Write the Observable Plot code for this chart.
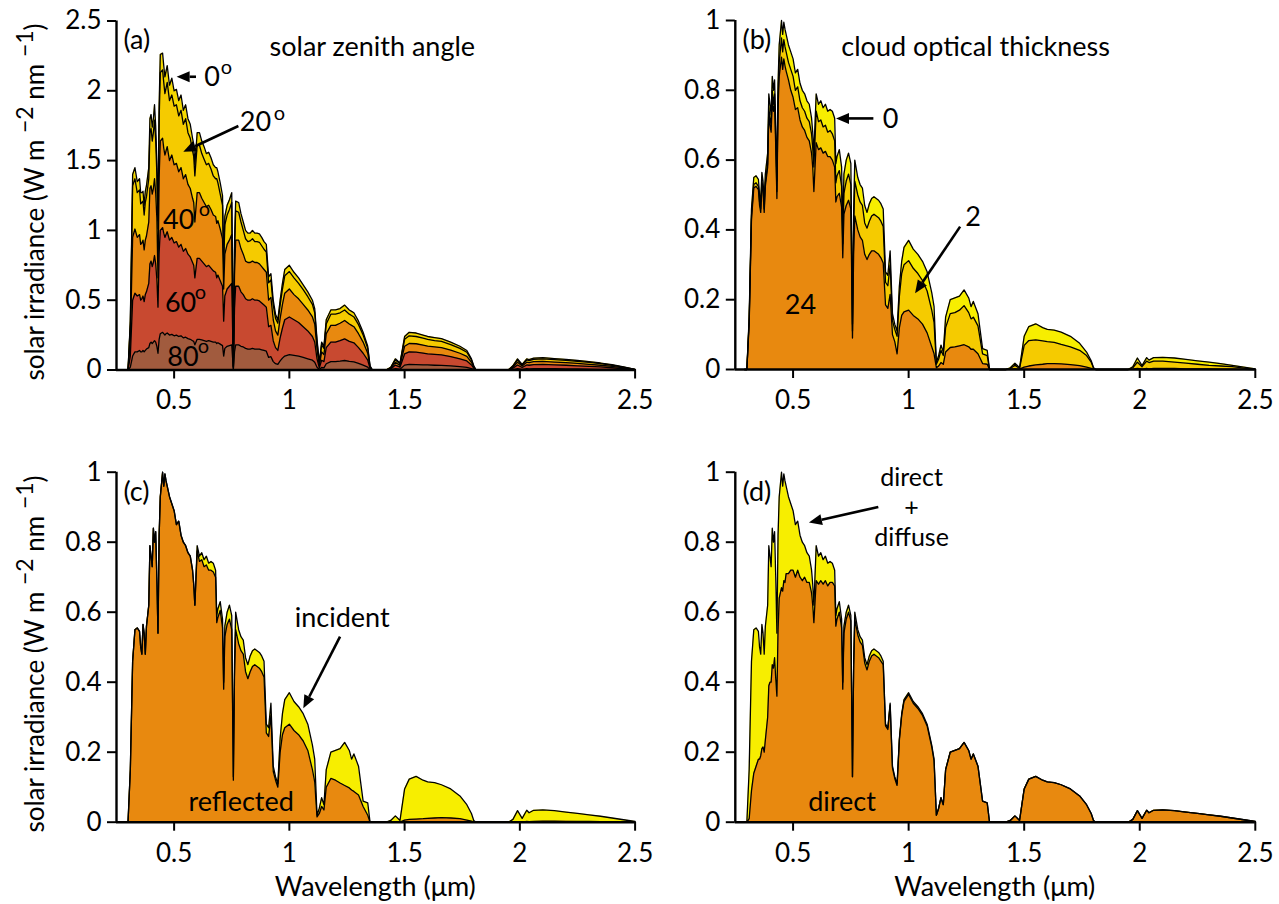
<!DOCTYPE html>
<html>
<head>
<meta charset="utf-8">
<script src="https://cdn.jsdelivr.net/npm/d3@7"></script>
<script src="https://cdn.jsdelivr.net/npm/@observablehq/plot@0.6"></script>
<style>
  html, body { margin: 0; padding: 0; background: #fff; }
  #chart { position: relative; width: 1279px; height: 904px; overflow: hidden; }
  .panel { position: absolute; }
  .panel svg { max-width: none; }
</style>
</head>
<body>
<div id="chart"></div>
<script>
// Wavelength grid (µm), shared by every spectrum below
const wavelength = [
  0.29, 0.30, 0.31, 0.32, 0.33, 0.34, 0.35, 0.355, 0.36, 0.365,
  0.37, 0.375, 0.38, 0.39, 0.395, 0.40, 0.405, 0.41, 0.415, 0.42,
  0.425, 0.43, 0.435, 0.44, 0.45, 0.455, 0.46, 0.465, 0.47, 0.48,
  0.49, 0.50, 0.51, 0.52, 0.53, 0.54, 0.55, 0.56, 0.57, 0.58,
  0.585, 0.59, 0.60, 0.61, 0.62, 0.63, 0.64, 0.65, 0.66, 0.67,
  0.68, 0.685, 0.69, 0.70, 0.71, 0.715, 0.72, 0.73, 0.74, 0.75,
  0.757, 0.762, 0.767, 0.78, 0.79, 0.80, 0.81, 0.82, 0.83, 0.84,
  0.85, 0.86, 0.87, 0.88, 0.89, 0.90, 0.91, 0.92, 0.93, 0.94,
  0.95, 0.96, 0.97, 0.98, 1.00, 1.02, 1.04, 1.06, 1.08, 1.10,
  1.11, 1.12, 1.13, 1.14, 1.15, 1.16, 1.18, 1.20, 1.22, 1.24,
  1.26, 1.27, 1.28, 1.30, 1.32, 1.34, 1.35, 1.36, 1.42, 1.44,
  1.46, 1.48, 1.50, 1.52, 1.55, 1.58, 1.60, 1.63, 1.66, 1.70,
  1.74, 1.77, 1.79, 1.80, 1.81, 1.95, 1.97, 1.99, 2.01, 2.03,
  2.04, 2.06, 2.10, 2.15, 2.20, 2.25, 2.30, 2.35, 2.40, 2.45,
  2.50
];

// (a) surface irradiance for solar zenith angles 0°, 20°, 40°, 60°, 80°
const sza0 = [
  0, 0, 0.35, 1.40, 1.45, 1.35, 1.37, 1.27, 1.27, 1.28,
  1.18, 1.28, 1.32, 1.45, 1.80, 1.83, 1.74, 1.80, 1.90, 1.75,
  1.50, 1.07, 1.90, 2.26, 2.27, 2.18, 2.10, 2.14, 2.18, 2.04,
  2.09, 2.00, 2.01, 1.93, 1.97, 1.86, 1.90, 1.80, 1.76, 1.66,
  1.62, 1.47, 1.70, 1.70, 1.64, 1.60, 1.55, 1.56, 1.52, 1.47,
  1.45, 1.45, 1.42, 1.34, 1.25, 0.80, 1.10, 1.18, 1.22, 1.27,
  0.03, 0.90, 1.21, 1.20, 1.12, 1.06, 1.00, 0.98, 0.98, 1.00,
  0.98, 0.98, 0.975, 0.95, 0.92, 0.90, 0.667, 0.69, 0.50, 0.40,
  0.36, 0.50, 0.62, 0.72, 0.75, 0.70, 0.66, 0.61, 0.56, 0.50,
  0.44, 0.22, 0.05, 0.20, 0.17, 0.36, 0.43, 0.43, 0.44, 0.465,
  0.43, 0.42, 0.41, 0.35, 0.27, 0.17, 0.03, 0, 0, 0.02,
  0.08, 0.05, 0.24, 0.27, 0.265, 0.25, 0.24, 0.232, 0.225, 0.20,
  0.17, 0.14, 0.08, 0.03, 0, 0, 0.03, 0.08, 0.04, 0.08,
  0.075, 0.085, 0.088, 0.082, 0.076, 0.068, 0.06, 0.05, 0.038, 0.022,
  0.005
];
const sza20 = [
  0, 0, 0.33, 1.32, 1.37, 1.27, 1.29, 1.19, 1.20, 1.21,
  1.11, 1.20, 1.24, 1.37, 1.70, 1.73, 1.64, 1.70, 1.79, 1.65,
  1.41, 1.01, 1.79, 2.13, 2.15, 2.06, 1.98, 2.02, 2.06, 1.93,
  1.97, 1.89, 1.90, 1.82, 1.86, 1.76, 1.80, 1.70, 1.66, 1.57,
  1.53, 1.39, 1.61, 1.61, 1.55, 1.51, 1.47, 1.48, 1.44, 1.39,
  1.37, 1.37, 1.34, 1.26, 1.18, 0.75, 1.04, 1.11, 1.15, 1.20,
  0.025, 0.85, 1.14, 1.13, 1.06, 1.00, 0.94, 0.92, 0.925, 0.94,
  0.92, 0.92, 0.915, 0.89, 0.865, 0.845, 0.625, 0.645, 0.465, 0.37,
  0.335, 0.465, 0.58, 0.675, 0.705, 0.66, 0.62, 0.575, 0.525, 0.47,
  0.41, 0.20, 0.045, 0.18, 0.155, 0.33, 0.40, 0.40, 0.41, 0.43,
  0.40, 0.39, 0.38, 0.325, 0.25, 0.155, 0.027, 0, 0, 0.018,
  0.072, 0.045, 0.22, 0.245, 0.24, 0.228, 0.219, 0.211, 0.205, 0.182,
  0.155, 0.127, 0.072, 0.027, 0, 0, 0.027, 0.072, 0.036, 0.072,
  0.068, 0.077, 0.08, 0.074, 0.069, 0.062, 0.054, 0.045, 0.034, 0.02,
  0.004
];
const sza40 = [
  0, 0, 0.22, 0.95, 1.01, 0.95, 0.97, 0.90, 0.91, 0.93,
  0.86, 0.93, 0.96, 1.06, 1.30, 1.32, 1.26, 1.30, 1.37, 1.27,
  1.09, 0.66, 1.38, 1.64, 1.66, 1.59, 1.54, 1.57, 1.60, 1.50,
  1.54, 1.47, 1.48, 1.42, 1.45, 1.37, 1.40, 1.33, 1.30, 1.23,
  1.20, 1.06, 1.27, 1.27, 1.23, 1.20, 1.17, 1.18, 1.15, 1.11,
  1.10, 1.05, 1.07, 1.01, 0.94, 0.58, 0.83, 0.90, 0.93, 0.97,
  0.02, 0.68, 0.93, 0.93, 0.87, 0.83, 0.78, 0.77, 0.77, 0.78,
  0.77, 0.77, 0.76, 0.74, 0.72, 0.70, 0.50, 0.52, 0.36, 0.28,
  0.25, 0.37, 0.47, 0.55, 0.58, 0.54, 0.51, 0.47, 0.43, 0.38,
  0.33, 0.15, 0.03, 0.13, 0.11, 0.26, 0.32, 0.32, 0.335, 0.355,
  0.33, 0.32, 0.31, 0.26, 0.20, 0.12, 0.02, 0, 0, 0.012,
  0.055, 0.033, 0.17, 0.19, 0.188, 0.178, 0.171, 0.165, 0.16, 0.142,
  0.12, 0.098, 0.055, 0.02, 0, 0, 0.02, 0.056, 0.028, 0.056,
  0.052, 0.06, 0.062, 0.057, 0.053, 0.047, 0.041, 0.034, 0.026, 0.015,
  0.003
];
const sza60 = [
  0, 0, 0.10, 0.50, 0.55, 0.53, 0.54, 0.50, 0.51, 0.53,
  0.49, 0.54, 0.56, 0.62, 0.76, 0.78, 0.74, 0.77, 0.82, 0.76,
  0.65, 0.45, 0.84, 1.00, 1.02, 0.98, 0.95, 0.97, 0.99, 0.93,
  0.95, 0.91, 0.92, 0.88, 0.90, 0.85, 0.87, 0.83, 0.81, 0.77,
  0.75, 0.66, 0.80, 0.80, 0.78, 0.76, 0.74, 0.75, 0.73, 0.71,
  0.70, 0.66, 0.68, 0.64, 0.60, 0.35, 0.53, 0.58, 0.60, 0.62,
  0.01, 0.44, 0.60, 0.60, 0.56, 0.54, 0.51, 0.50, 0.50, 0.51,
  0.50, 0.50, 0.495, 0.48, 0.465, 0.45, 0.31, 0.32, 0.21, 0.16,
  0.14, 0.23, 0.30, 0.36, 0.38, 0.36, 0.34, 0.31, 0.28, 0.24,
  0.20, 0.08, 0.015, 0.07, 0.06, 0.16, 0.20, 0.20, 0.21, 0.223,
  0.205, 0.20, 0.195, 0.16, 0.12, 0.07, 0.012, 0, 0, 0.007,
  0.035, 0.02, 0.115, 0.13, 0.128, 0.121, 0.116, 0.112, 0.108, 0.096,
  0.08, 0.065, 0.036, 0.013, 0, 0, 0.013, 0.036, 0.018, 0.036,
  0.034, 0.038, 0.04, 0.037, 0.034, 0.03, 0.026, 0.022, 0.016, 0.009,
  0.002
];
const sza80 = [
  0, 0, 0.02, 0.10, 0.13, 0.13, 0.14, 0.13, 0.13, 0.14,
  0.13, 0.14, 0.15, 0.16, 0.19, 0.20, 0.19, 0.20, 0.21, 0.20,
  0.17, 0.12, 0.22, 0.26, 0.27, 0.26, 0.25, 0.26, 0.265, 0.25,
  0.255, 0.245, 0.25, 0.24, 0.245, 0.23, 0.235, 0.225, 0.22, 0.21,
  0.205, 0.18, 0.22, 0.22, 0.215, 0.21, 0.205, 0.21, 0.205, 0.20,
  0.20, 0.19, 0.195, 0.185, 0.175, 0.10, 0.155, 0.17, 0.175, 0.18,
  0.003, 0.13, 0.18, 0.18, 0.17, 0.165, 0.155, 0.15, 0.15, 0.155,
  0.15, 0.15, 0.15, 0.145, 0.14, 0.135, 0.09, 0.095, 0.06, 0.045,
  0.04, 0.065, 0.085, 0.10, 0.11, 0.105, 0.10, 0.09, 0.08, 0.07,
  0.055, 0.02, 0.004, 0.018, 0.015, 0.045, 0.06, 0.06, 0.063, 0.068,
  0.062, 0.06, 0.058, 0.048, 0.035, 0.02, 0.003, 0, 0, 0.002,
  0.01, 0.006, 0.035, 0.04, 0.039, 0.037, 0.036, 0.034, 0.033, 0.029,
  0.024, 0.019, 0.01, 0.004, 0, 0, 0.003, 0.009, 0.004, 0.009,
  0.008, 0.01, 0.01, 0.009, 0.008, 0.007, 0.006, 0.005, 0.004, 0.002,
  0.0005
];

// Clear-sky total (direct + diffuse) irradiance: (b) thickness 0, (c) incident, (d) direct + diffuse
const clearSky = [
  0, 0, 0.15, 0.46, 0.55, 0.555, 0.545, 0.50, 0.48, 0.565,
  0.54, 0.48, 0.56, 0.62, 0.79, 0.76, 0.73, 0.84, 0.80, 0.83,
  0.70, 0.54, 0.82, 0.93, 1.0, 0.96, 0.995, 0.975, 0.96, 0.93,
  0.91, 0.89, 0.85, 0.86, 0.82, 0.80, 0.79, 0.77, 0.76, 0.72,
  0.68, 0.62, 0.79, 0.76, 0.77, 0.75, 0.76, 0.74, 0.745, 0.74,
  0.72, 0.59, 0.61, 0.63, 0.58, 0.40, 0.56, 0.60, 0.62, 0.59,
  0.13, 0.45, 0.60, 0.55, 0.53, 0.52, 0.47, 0.45, 0.475, 0.49,
  0.495, 0.49, 0.485, 0.475, 0.46, 0.28, 0.27, 0.34, 0.16, 0.13,
  0.11, 0.24, 0.31, 0.35, 0.37, 0.345, 0.33, 0.31, 0.28, 0.22,
  0.18, 0.02, 0.04, 0.07, 0.05, 0.15, 0.20, 0.205, 0.21, 0.228,
  0.205, 0.18, 0.195, 0.16, 0.06, 0.055, 0, 0, 0, 0.005,
  0.018, 0.005, 0.095, 0.123, 0.131, 0.12, 0.115, 0.113, 0.107, 0.095,
  0.075, 0.05, 0.025, 0.005, 0, 0, 0.008, 0.033, 0.011, 0.034,
  0.027, 0.034, 0.035, 0.033, 0.029, 0.025, 0.021, 0.017, 0.012, 0.007,
  0.002
];
// (b) cloud optical thickness 2 and 24
const cloud2 = [
  0, 0, 0.14, 0.44, 0.53, 0.535, 0.525, 0.48, 0.46, 0.54,
  0.52, 0.46, 0.535, 0.59, 0.75, 0.72, 0.70, 0.80, 0.76, 0.79,
  0.66, 0.51, 0.78, 0.88, 0.95, 0.91, 0.945, 0.925, 0.91, 0.88,
  0.86, 0.84, 0.80, 0.81, 0.77, 0.75, 0.74, 0.72, 0.71, 0.675,
  0.635, 0.58, 0.74, 0.71, 0.715, 0.695, 0.70, 0.68, 0.685, 0.675,
  0.655, 0.535, 0.555, 0.57, 0.525, 0.36, 0.505, 0.54, 0.56, 0.53,
  0.11, 0.40, 0.54, 0.50, 0.48, 0.47, 0.42, 0.405, 0.425, 0.44,
  0.445, 0.44, 0.435, 0.425, 0.41, 0.25, 0.24, 0.30, 0.14, 0.115,
  0.095, 0.21, 0.275, 0.30, 0.312, 0.29, 0.275, 0.255, 0.225, 0.17,
  0.135, 0.015, 0.03, 0.055, 0.04, 0.12, 0.16, 0.163, 0.17, 0.183,
  0.163, 0.145, 0.15, 0.125, 0.045, 0.04, 0, 0, 0, 0.003,
  0.012, 0.003, 0.069, 0.083, 0.085, 0.082, 0.08, 0.078, 0.072, 0.065,
  0.055, 0.04, 0.021, 0.004, 0, 0, 0.005, 0.021, 0.008, 0.024,
  0.02, 0.024, 0.024, 0.021, 0.018, 0.015, 0.012, 0.01, 0.008, 0.004,
  0.001
];
const cloud24 = [
  0, 0, 0.13, 0.43, 0.52, 0.525, 0.515, 0.47, 0.45, 0.53,
  0.51, 0.45, 0.525, 0.58, 0.73, 0.70, 0.68, 0.77, 0.74, 0.76,
  0.64, 0.49, 0.75, 0.84, 0.895, 0.86, 0.89, 0.87, 0.855, 0.83,
  0.80, 0.78, 0.745, 0.75, 0.715, 0.695, 0.685, 0.665, 0.655, 0.62,
  0.58, 0.51, 0.65, 0.63, 0.635, 0.62, 0.625, 0.61, 0.61, 0.60,
  0.58, 0.48, 0.495, 0.505, 0.465, 0.32, 0.445, 0.47, 0.485, 0.46,
  0.09, 0.33, 0.44, 0.40, 0.38, 0.37, 0.33, 0.315, 0.33, 0.34,
  0.34, 0.335, 0.33, 0.32, 0.305, 0.185, 0.175, 0.215, 0.10, 0.08,
  0.045, 0.12, 0.155, 0.165, 0.17, 0.155, 0.145, 0.13, 0.105, 0.065,
  0.045, 0.005, 0.01, 0.02, 0.015, 0.05, 0.063, 0.065, 0.068, 0.071,
  0.065, 0.058, 0.058, 0.045, 0.017, 0.015, 0, 0, 0, 0.001,
  0.002, 0.001, 0.007, 0.01, 0.013, 0.015, 0.017, 0.017, 0.016, 0.014,
  0.011, 0.007, 0.003, 0.001, 0, 0, 0.001, 0.003, 0.001, 0.003,
  0.002, 0.003, 0.003, 0.003, 0.002, 0.002, 0.0015, 0.001, 0.001, 0.0005,
  0
];
// (c) reflected irradiance
const reflected = [
  0, 0, 0.15, 0.46, 0.55, 0.555, 0.545, 0.50, 0.48, 0.565,
  0.54, 0.48, 0.56, 0.62, 0.79, 0.76, 0.73, 0.84, 0.80, 0.83,
  0.70, 0.54, 0.82, 0.93, 1.0, 0.96, 0.995, 0.975, 0.96, 0.93,
  0.91, 0.89, 0.85, 0.86, 0.82, 0.80, 0.79, 0.77, 0.76, 0.72,
  0.68, 0.62, 0.775, 0.745, 0.75, 0.73, 0.735, 0.72, 0.72, 0.715,
  0.70, 0.57, 0.585, 0.605, 0.555, 0.38, 0.53, 0.565, 0.58, 0.55,
  0.12, 0.42, 0.55, 0.51, 0.49, 0.48, 0.43, 0.41, 0.43, 0.445,
  0.45, 0.445, 0.44, 0.43, 0.415, 0.255, 0.245, 0.305, 0.145, 0.12,
  0.10, 0.20, 0.25, 0.27, 0.28, 0.262, 0.25, 0.232, 0.205, 0.15,
  0.115, 0.015, 0.025, 0.045, 0.035, 0.10, 0.125, 0.12, 0.112, 0.105,
  0.098, 0.092, 0.088, 0.078, 0.045, 0.02, 0, 0, 0, 0,
  0.001, 0, 0.006, 0.008, 0.009, 0.01, 0.011, 0.012, 0.013, 0.012,
  0.01, 0.006, 0.003, 0.001, 0, 0, 0.0005, 0.001, 0.0005, 0.002,
  0.0015, 0.002, 0.003, 0.003, 0.0025, 0.002, 0.002, 0.0015, 0.001, 0.0005,
  0
];
// (d) direct-beam irradiance
const direct = [
  0, 0, 0.01, 0.09, 0.14, 0.16, 0.18, 0.18, 0.19, 0.21,
  0.215, 0.20, 0.235, 0.30, 0.39, 0.40, 0.40, 0.45, 0.44, 0.47,
  0.41, 0.36, 0.55, 0.64, 0.67, 0.66, 0.69, 0.685, 0.71, 0.71,
  0.72, 0.72, 0.70, 0.72, 0.70, 0.69, 0.70, 0.685, 0.685, 0.655,
  0.62, 0.57, 0.69, 0.68, 0.69, 0.68, 0.69, 0.675, 0.685, 0.685,
  0.675, 0.56, 0.58, 0.60, 0.555, 0.38, 0.54, 0.58, 0.60, 0.575,
  0.13, 0.44, 0.58, 0.535, 0.515, 0.505, 0.455, 0.435, 0.46, 0.475,
  0.48, 0.475, 0.47, 0.46, 0.45, 0.275, 0.265, 0.335, 0.155, 0.125,
  0.105, 0.235, 0.305, 0.345, 0.365, 0.34, 0.325, 0.305, 0.275, 0.215,
  0.175, 0.02, 0.04, 0.07, 0.05, 0.15, 0.20, 0.205, 0.21, 0.228,
  0.205, 0.18, 0.195, 0.16, 0.06, 0.055, 0, 0, 0, 0.005,
  0.018, 0.005, 0.095, 0.123, 0.131, 0.12, 0.115, 0.113, 0.107, 0.095,
  0.075, 0.05, 0.025, 0.005, 0, 0, 0.008, 0.033, 0.011, 0.034,
  0.027, 0.034, 0.035, 0.033, 0.029, 0.025, 0.021, 0.017, 0.012, 0.007,
  0.002
];

const xTicks = [0.5, 1, 1.5, 2, 2.5];
const yTicksTop = [0, 0.5, 1, 1.5, 2, 2.5];
const yTicksUnit = [0, 0.2, 0.4, 0.6, 0.8, 1];

const FONT = "Lato, 'Open Sans', sans-serif";
const FS = 27;
const C = {
  yellow: "#f7ee00",
  gold: "#f5cb00",
  amber: "#f4d800",
  orange: "#e8890f",
  red: "#c84930",
  brown: "#a15b3e"
};

const rows = values => wavelength.map((w, i) => ({w, v: values[i]}));

const label = (text, x, y, opts = {}) =>
  Plot.text([text], {x, y, text: d => d, fontSize: FS, fill: "#000", ...opts});
const sup = (x, y) => Plot.text(["o"], {x, y, text: d => d, fontSize: 20, fill: "#000"});

function drawPanel(cfg) {
  const marks = [];
  for (const s of cfg.layers) {
    marks.push(Plot.areaY(rows(s.values), {x: "w", y1: 0, y2: "v", fill: s.fill}));
  }
  for (const s of cfg.layers) {
    marks.push(Plot.lineY(rows(s.values), {x: "w", y: "v", stroke: "#000", strokeWidth: 1.3, strokeLinejoin: "round"}));
  }
  marks.push(
    Plot.ruleX([0.25], {y1: 0, y2: cfg.yMax, stroke: "#000", strokeWidth: 2.4}),
    Plot.ruleY([0], {x1: 0.25, x2: 2.5, stroke: "#000", strokeWidth: 2.4}),
    Plot.axisX({ticks: xTicks, tickSize: 9, tickPadding: 12, tickFormat: d => String(d), fontSize: 26, strokeWidth: 2, label: null}),
    Plot.axisY({ticks: cfg.yTicks, tickSize: 9, tickPadding: 6, tickFormat: d => String(d), fontSize: 26, strokeWidth: 2, label: null}),
    ...cfg.notes
  );
  const plot = Plot.plot({
    width: cfg.width,
    height: cfg.height,
    marginTop: cfg.mt,
    marginBottom: cfg.mb,
    marginLeft: cfg.ml,
    marginRight: cfg.mr,
    x: {type: "linear", domain: [0.25, 2.5]},
    y: {type: "linear", domain: [0, cfg.yMax]},
    style: {fontFamily: FONT, fontSize: "26px", overflow: "visible", color: "#000"},
    marks
  });

  const xs = plot.scale("x"), ys = plot.scale("y");
  const x = d3.scaleLinear(xs.domain, xs.range);
  const y = d3.scaleLinear(ys.domain, ys.range);
  const svg = d3.select(plot);

  // annotation arrows with solid heads
  for (const [[x1, y1], [x2, y2]] of cfg.arrows || []) {
    const ax = x(x1), ay = y(y1), bx = x(x2), by = y(y2);
    const a = Math.atan2(by - ay, bx - ax);
    const L = 13, H = 5.5;
    const sx = bx - L * Math.cos(a), sy = by - L * Math.sin(a);
    svg.append("line")
      .attr("x1", ax).attr("y1", ay).attr("x2", sx).attr("y2", sy)
      .attr("stroke", "#000").attr("stroke-width", 2.6);
    svg.append("path")
      .attr("d", `M${bx},${by}L${sx + H * Math.sin(a)},${sy - H * Math.cos(a)}L${sx - H * Math.sin(a)},${sy + H * Math.cos(a)}Z`)
      .attr("fill", "#000");
  }

  // rotated y-axis title with superscript exponents
  if (cfg.yTitle) {
    const [tx, ty] = cfg.yTitle;
    const t = svg.append("text")
      .attr("transform", `translate(${tx},${ty}) rotate(-90)`)
      .attr("text-anchor", "middle")
      .attr("font-family", FONT)
      .attr("font-size", 26)
      .attr("fill", "#000");
    t.append("tspan").text("solar irradiance (W m ");
    t.append("tspan").attr("dy", -11).attr("font-size", 23).text("\u22122");
    t.append("tspan").attr("dy", 11).text(" nm ");
    t.append("tspan").attr("dy", -11).attr("font-size", 23).text("\u22121");
    t.append("tspan").attr("dy", 11).text(")");
  }

  // x-axis title
  if (cfg.xTitle) {
    svg.append("text")
      .attr("x", (xs.range[0] + xs.range[1]) / 2)
      .attr("y", cfg.xTitle)
      .attr("text-anchor", "middle")
      .attr("font-family", FONT)
      .attr("font-size", FS)
      .attr("fill", "#000")
      .text("Wavelength (\u03bcm)");
  }

  const div = document.createElement("div");
  div.className = "panel";
  div.style.left = cfg.left + "px";
  div.style.top = cfg.top + "px";
  div.style.width = cfg.width + "px";
  div.style.height = cfg.height + "px";
  div.appendChild(plot);
  document.getElementById("chart").appendChild(div);
}

// (a) solar zenith angle
drawPanel({
  left: 0, top: 0, width: 650, height: 420,
  mt: 20.5, mb: 50.5, ml: 116, mr: 15.4,
  yMax: 2.5, yTicks: yTicksTop,
  layers: [
    {values: sza0, fill: C.amber},
    {values: sza20, fill: C.gold},
    {values: sza40, fill: C.orange},
    {values: sza60, fill: C.red},
    {values: sza80, fill: C.brown}
  ],
  notes: [
    label("(a)", 0.28, 2.36, {textAnchor: "start"}),
    label("solar zenith angle", 1.36, 2.31),
    label("0", 0.665, 2.095), sup(0.727, 2.167),
    label("20", 0.853, 1.773), sup(0.957, 1.837),
    label("40", 0.52, 1.071), sup(0.632, 1.15),
    label("60", 0.528, 0.48), sup(0.614, 0.555),
    label("80", 0.5385, 0.093), sup(0.627, 0.168)
  ],
  arrows: [
    [[0.597, 2.097], [0.513, 2.097]],
    [[0.781, 1.744], [0.542, 1.56]]
  ],
  yTitle: [44, 202]
});

// (b) cloud optical thickness
drawPanel({
  left: 640, top: 0, width: 639, height: 420,
  mt: 20, mb: 51, ml: 94.8, mr: 24.2,
  yMax: 1, yTicks: yTicksUnit,
  layers: [
    {values: clearSky, fill: C.yellow},
    {values: cloud2, fill: C.gold},
    {values: cloud24, fill: C.orange}
  ],
  notes: [
    label("(b)", 0.281, 0.943, {textAnchor: "start"}),
    label("cloud optical thickness", 1.29, 0.9226),
    label("0", 0.922, 0.716),
    label("2", 1.279, 0.436),
    label("24", 0.532, 0.183)
  ],
  arrows: [
    [[0.8496, 0.718], [0.688, 0.718]],
    [[1.225, 0.408], [1.03, 0.217]]
  ]
});

// (c) incident and reflected
drawPanel({
  left: 0, top: 452, width: 650, height: 452,
  mt: 19.7, mb: 82.3, ml: 116, mr: 15.4,
  yMax: 1, yTicks: yTicksUnit,
  layers: [
    {values: clearSky, fill: C.yellow},
    {values: reflected, fill: C.orange}
  ],
  notes: [
    label("(c)", 0.28, 0.942, {textAnchor: "start"}),
    label("incident", 1.229, 0.582),
    label("reflected", 0.7906, 0.0563)
  ],
  arrows: [
    [[1.222, 0.5286], [1.0626, 0.324]]
  ],
  yTitle: [44, 202],
  xTitle: 444
});

// (d) direct and direct + diffuse
drawPanel({
  left: 640, top: 452, width: 639, height: 452,
  mt: 19.7, mb: 82.3, ml: 94.8, mr: 24.2,
  yMax: 1, yTicks: yTicksUnit,
  layers: [
    {values: clearSky, fill: C.yellow},
    {values: direct, fill: C.orange}
  ],
  notes: [
    label("direct\n+\ndiffuse", 1.0128, 0.902, {lineHeight: 1.2, fontSize: 25}),
    label("(d)", 0.281, 0.942, {textAnchor: "start"}),
    label("direct", 0.712, 0.0563)
  ],
  arrows: [
    [[0.871, 0.8994], [0.5708, 0.8546]]
  ],
  xTitle: 444
});
</script>
</body>
</html>
